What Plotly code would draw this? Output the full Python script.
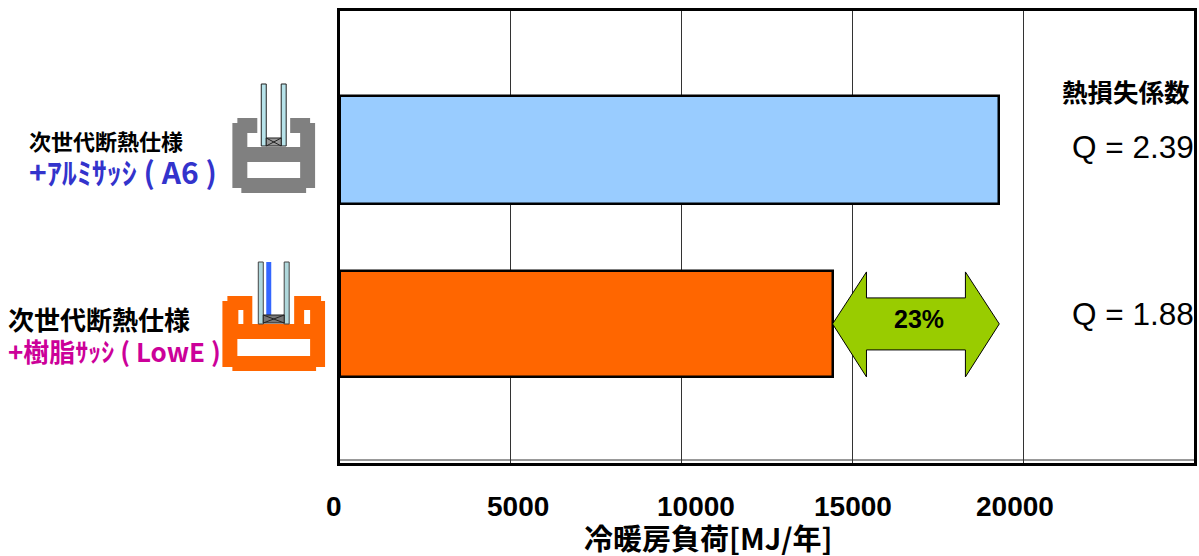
import plotly.graph_objects as go

# ---- data ----
categories = ["次世代断熱仕様+アルミサッシ(A6)", "次世代断熱仕様+樹脂サッシ(LowE)"]
load_values = [19300, 14420]
bar_colors = ["#99ccff", "#ff6600"]
label_top = ["次世代断熱仕様", "次世代断熱仕様"]
label_sub = ["+ｱﾙﾐｻｯｼ ( A6 )", "+樹脂ｻｯｼ ( LowE )"]
q_labels = ["Q = 2.39", "Q = 1.88"]
tick_values = [0, 5000, 10000, 15000, 20000]
tick_labels = ["0", "5000", "10000", "15000", "20000"]
tick_shift = [-6, 7, 14, 1, -8]
reduction_label = "23%"
q_title = "熱損失係数"
x_title = "冷暖房負荷[MJ/年]"

W, H = 1199, 556
L, R, T, B = 340, 1197, 11, 463
JP = "Noto Sans CJK JP"
LAT = "Liberation Sans"
X_MAX = 25000
Y_RANGE = [1.8, -0.8]


def px(x):
    return (x - L) / (R - L)


def py(y):
    return (B - y) / (B - T)


def poly(points, fill, line=None, lw=0):
    path = "M " + " L ".join(f"{px(a):.5f},{py(b):.5f}" for a, b in points) + " Z"
    return dict(type="path", xref="paper", yref="paper", path=path, fillcolor=fill, layer="above",
                line=dict(color=line or fill, width=lw))


def rect(x0, y0, x1, y1, fill, line=None, lw=0):
    return poly([(x0, y0), (x1, y0), (x1, y1), (x0, y1)], fill, line, lw)


def seg(x0, y0, x1, y1, color, lw=1):
    return dict(type="line", xref="paper", yref="paper", x0=px(x0), y0=py(y0), x1=px(x1), y1=py(y1),
                layer="above", line=dict(color=color, width=lw))


def text(x, y, s, size, color="#000000", font=JP, bold=True, anchor="left"):
    return dict(xref="paper", yref="paper", x=px(x), y=py(y), text=f"<b>{s}</b>" if bold else s,
                showarrow=False, xanchor=anchor, yanchor="middle", xshift=0,
                font=dict(family=font, size=size, color=color))


fig = go.Figure()
fig.add_trace(go.Bar(
    x=load_values, y=list(range(len(categories))), orientation="h", width=[0.625, 0.61],
    marker=dict(color=bar_colors, line=dict(color="#000000", width=2.5)),
    hovertext=categories, hoverinfo="text+x", showlegend=False,
))

shapes = []
# double line at the foot of the plot
shapes.append(seg(L, 460, R, 460, "#333333", 1))

# icon, aluminium sash
G = "#808080"
shapes.append(poly([(237, 118), (257, 118), (257, 133), (247, 133), (247, 147), (300, 147), (300, 133),
                    (290, 133), (290, 118), (310, 118), (310, 123), (315, 123), (315, 188), (306, 188),
                    (306, 193), (241, 193), (241, 188), (232, 188), (232, 123), (237, 123)], G))
shapes.append(rect(247, 162, 300, 178, "#ffffff"))
shapes.append(rect(261, 84, 266, 146, "#b7e3ea", "#222222", 1))
shapes.append(rect(281, 84, 286, 146, "#b7e3ea", "#222222", 1))
shapes.append(rect(266, 138, 281, 146, "#999999", "#222222", 1))
shapes.append(seg(266, 138, 281, 146, "#222222"))
shapes.append(seg(266, 146, 281, 138, "#222222"))

# icon, resin sash
O = "#ff6600"
shapes.append(poly([(227, 296), (252, 296), (252, 324), (294, 324), (294, 296), (321, 296), (321, 301),
                    (325, 301), (325, 367), (316, 367), (316, 371), (232, 371), (232, 367), (222, 367),
                    (222, 301), (227, 301)], O))
shapes.append(rect(238, 310, 243, 324, "#ffffff"))
shapes.append(rect(304, 310, 310, 324, "#ffffff"))
shapes.append(rect(237, 339, 310, 356, "#ffffff"))
shapes.append(rect(258, 262, 263, 324, "#b0d8dc", "#444444", 1))
shapes.append(rect(284, 262, 289, 324, "#b0d8dc", "#444444", 1))
shapes.append(rect(266, 262, 271, 315, "#3366ff"))
shapes.append(rect(263, 315, 284, 323, "#777777", "#222222", 1))
shapes.append(seg(263, 315, 284, 323, "#222222"))
shapes.append(seg(263, 323, 284, 315, "#222222"))

# double arrow between the two bar ends (x from the data, y from the bar row)
x_lo, x_hi = load_values[1], load_values[0]
unit_y = (B - T) / abs(Y_RANGE[0] - Y_RANGE[1])
unit_x = (R - L) / X_MAX
head = 34 / unit_x
yc = 1.0
arrow = [(x_lo, yc), (x_lo + head, yc - 52 / unit_y), (x_lo + head, yc - 26 / unit_y),
         (x_hi - head, yc - 26 / unit_y), (x_hi - head, yc - 52 / unit_y), (x_hi, yc),
         (x_hi - head, yc + 53 / unit_y), (x_hi - head, yc + 26 / unit_y),
         (x_lo + head, yc + 26 / unit_y), (x_lo + head, yc + 53 / unit_y)]
shapes.append(dict(type="path", xref="x", yref="y", layer="above", fillcolor="#99cc00",
                   path="M " + " L ".join(f"{a:.1f},{b:.4f}" for a, b in arrow) + " Z",
                   line=dict(color="#000000", width=1)))

ann = []
ann.append(text(26, 140, label_top[0], 22))
ann.append(text(26, 171, label_sub[0], 30, "#3333cc"))
ann.append(text(5, 318, label_top[1], 26))
ann.append(text(5, 350, label_sub[1], 26, "#cc0099"))
ann.append(text(1195, 90, q_title, 25.5, anchor="right"))
ann.append(text(1199, 147, q_labels[0], 31.5, font=LAT, bold=False, anchor="right"))
ann.append(text(1199, 314, q_labels[1], 31.5, font=LAT, bold=False, anchor="right"))
ann.append(text(921, 319, reduction_label, 25, font=LAT, anchor="center"))
ann.append(text(709, 537, x_title, 29, anchor="center"))
for v, s, d in zip(tick_values, tick_labels, tick_shift):
    ann.append(dict(xref="x", yref="paper", x=v, y=py(507), text=f"<b>{s}</b>", showarrow=False,
                    xshift=d, xanchor="center", yanchor="middle",
                    font=dict(family=LAT, size=28, color="#000000")))

fig.update_layout(
    width=W, height=H, autosize=False, margin=dict(l=L, r=W - R, t=T, b=H - B, pad=0),
    paper_bgcolor="#ffffff", plot_bgcolor="#ffffff", bargap=0, shapes=shapes, annotations=ann,
    xaxis=dict(range=[0, X_MAX], tickvals=tick_values, showticklabels=False, ticks="",
               showgrid=True, gridcolor="#333333", gridwidth=1, zeroline=False,
               showline=True, linecolor="#000000", linewidth=3, mirror=True),
    yaxis=dict(range=Y_RANGE, tickvals=[], showticklabels=False, showgrid=False, zeroline=False,
               showline=True, linecolor="#000000", linewidth=3, mirror=True),
)
fig.write_html("out.html", config={"displayModeBar": False},
               post_script="document.body.style.margin='0';document.documentElement.style.overflow='hidden';")
